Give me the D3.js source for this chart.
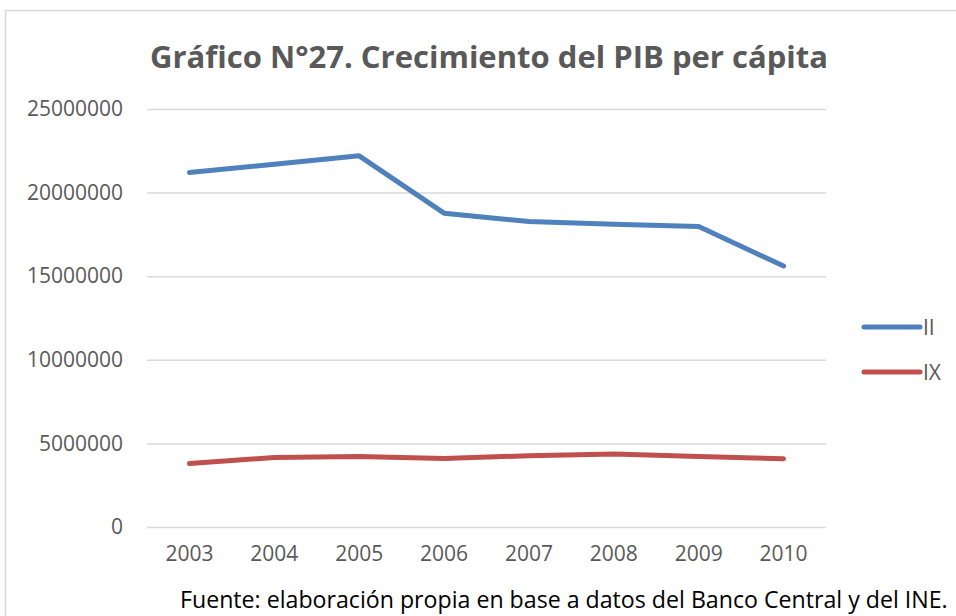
<!DOCTYPE html>
<html>
<head>
<meta charset="utf-8">
<script src="https://cdn.jsdelivr.net/npm/d3@7"></script>
<style>
  html, body { margin: 0; padding: 0; background: #fff; }
  svg { display: block; }
</style>
</head>
<body>
<svg id="chart" width="956" height="616"></svg>
<script>
// data
const years = ["2003", "2004", "2005", "2006", "2007", "2008", "2009", "2010"];
const regionII = [21200000, 21700000, 22200000, 18770000, 18270000, 18110000, 17970000, 15610000];
const regionIX = [3800000, 4160000, 4220000, 4100000, 4260000, 4360000, 4220000, 4080000];
const seriesNames = ["II", "IX"];
const seriesColors = ["#4f81bd", "#c0504d"];
const yTicks = [0, 5000000, 10000000, 15000000, 20000000, 25000000];

const FONT = "'Open Sans', 'Liberation Sans', sans-serif";
const LABEL_SIZE = 21;
const svg = d3.select("#chart");

// outer chart frame (runs off the right/bottom edge)
svg.append("rect")
  .attr("x", 5.5).attr("y", 10.5)
  .attr("width", 1000).attr("height", 700)
  .attr("fill", "#fff")
  .attr("stroke", "#d9d9d9")
  .attr("stroke-width", 1.5);

const plot = { left: 147, right: 826, top: 109, bottom: 527 };

const x = d3.scaleBand().domain(years).range([plot.left, plot.right]);
const y = d3.scaleLinear().domain([0, 25000000]).range([plot.bottom, plot.top]);

// shrink/grow a text node until it spans the given width
function fitWidth(sel, target) {
  const node = sel.node();
  const fs = parseFloat(sel.attr("font-size"));
  const w = node.getComputedTextLength();
  sel.attr("font-size", (fs * target / w).toFixed(2));
}

// title
const title = svg.append("text")
  .attr("x", 489).attr("y", 68)
  .attr("text-anchor", "middle")
  .attr("font-family", FONT)
  .attr("font-weight", "bold")
  .attr("font-size", 28)
  .attr("fill", "#595959")
  .text("Gráfico N°27. Crecimiento del PIB per cápita");
fitWidth(title, 678);

// gridlines + y labels
const yAxis = d3.axisLeft(y).tickValues(yTicks)
  .tickSize(-(plot.right - plot.left))
  .tickPadding(24)
  .tickFormat(d3.format("d"));
const gy = svg.append("g")
  .attr("transform", `translate(${plot.left},0)`)
  .call(yAxis);
gy.select(".domain").remove();
gy.selectAll(".tick line").attr("stroke", "#d9d9d9").attr("stroke-width", 1.5);
gy.selectAll(".tick text")
  .attr("font-family", FONT).attr("font-size", LABEL_SIZE)
  .attr("fill", "#595959");

// x labels
const xAxis = d3.axisBottom(x).tickSize(0).tickPadding(19);
const gx = svg.append("g")
  .attr("transform", `translate(0,${plot.bottom})`)
  .call(xAxis);
gx.select(".domain").remove();
gx.selectAll(".tick text")
  .attr("font-family", FONT).attr("font-size", LABEL_SIZE)
  .attr("fill", "#595959");

// lines
const line = d3.line()
  .x((d, i) => x(years[i]) + x.bandwidth() / 2)
  .y(d => y(d));

[regionII, regionIX].forEach((vals, i) => {
  svg.append("path")
    .datum(vals)
    .attr("d", line)
    .attr("fill", "none")
    .attr("stroke", seriesColors[i])
    .attr("stroke-width", 5)
    .attr("stroke-linecap", "round")
    .attr("stroke-linejoin", "round");
});

// legend
const legend = svg.append("g").attr("transform", "translate(864,327)");
seriesNames.forEach((name, i) => {
  const g = legend.append("g").attr("transform", `translate(0,${i * 45})`);
  g.append("line")
    .attr("x1", 0).attr("x2", 56)
    .attr("stroke", seriesColors[i])
    .attr("stroke-width", 5)
    .attr("stroke-linecap", "round");
  g.append("text")
    .attr("x", 59).attr("y", 7.5)
    .attr("font-family", FONT).attr("font-size", LABEL_SIZE)
    .attr("fill", "#595959")
    .text(name);
});

// source note
const note = svg.append("text")
  .attr("x", 180).attr("y", 608)
  .attr("font-family", FONT)
  .attr("font-size", 22)
  .attr("fill", "#000")
  .text("Fuente: elaboración propia en base a datos del Banco Central y del INE.");
fitWidth(note, 768);
</script>
</body>
</html>
